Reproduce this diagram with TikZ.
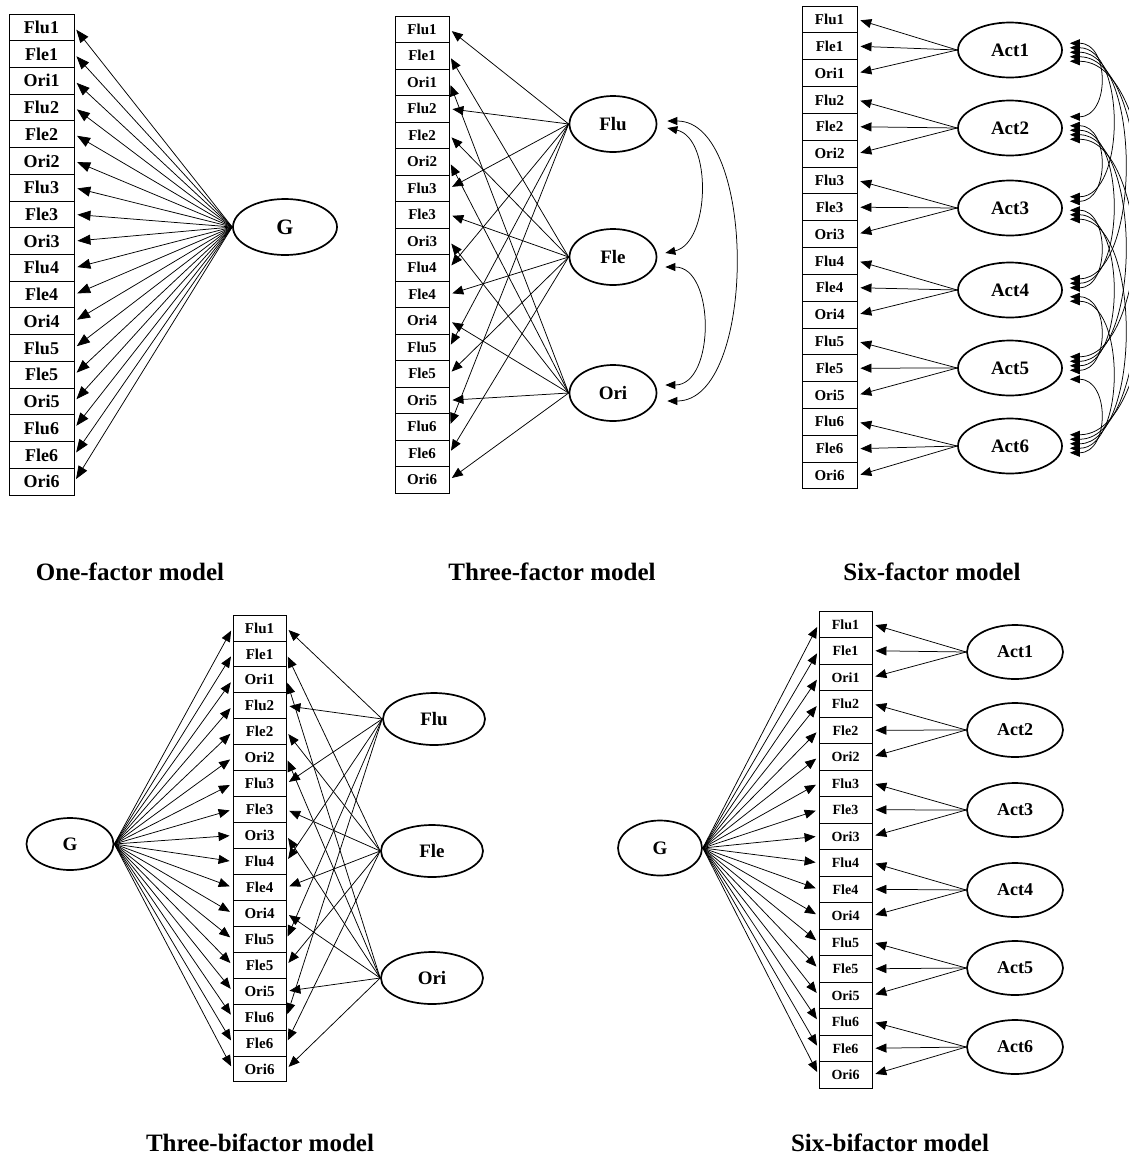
\documentclass[tikz,border=0pt]{standalone}
\usepackage{fontspec}
\setmainfont{Liberation Serif}
\usetikzlibrary{arrows.meta,shapes.geometric,calc}

% one column of the 18 observed scores: prefix, centre x, top y, width, row height, font size
\newcommand{\scorecol}[6]{%
  \foreach \i in {1,...,6}{%
    \foreach \kind [count=\k from 0] in {Flu,Fle,Ori}{%
      \pgfmathsetmacro{\row}{3*(\i-1)+\k}%
      \node[score, minimum width=#4pt, minimum height=#5pt,
            font=\bfseries\fontsize{#6}{#6}\selectfont]
        (#1\kind\i) at (#2, {#3+(\row+0.5)*#5}) {\kind\i};
    }%
  }%
}

\begin{document}
\begin{tikzpicture}[
    x=1pt, y=-1pt,
    score/.style={draw, rectangle, inner sep=0pt, line width=0.9pt},
    factor/.style={draw, ellipse, inner sep=0pt, line width=1.7pt},
    load/.style={-{Triangle[length=11pt,width=9pt]}, line width=0.75pt, shorten >=3pt},
    cov/.style={{Triangle[length=10pt,width=8pt]}-{Triangle[length=10pt,width=8pt]}, line width=0.75pt},
    caption/.style={font=\bfseries\fontsize{25}{25}\selectfont}
]
\fill[white] (0,0) rectangle (1128,1168);
\useasboundingbox (0,0) rectangle (1128,1168);

% one-factor model
\scorecol{a}{41.5}{14}{65}{26.72}{18}
\node[factor, minimum width=104pt, minimum height=56pt, font=\bfseries\fontsize{22}{22}\selectfont] (aG) at (285,227) {G};
\foreach \kind in {Flu,Fle,Ori}
  \foreach \i in {1,...,6}
    \draw[load, -{Triangle[length=13pt,width=10pt]}] (aG.west) -- (a\kind\i.east);
\node[caption] (acap) at (130,572) {One-factor model};

% three-factor model
\scorecol{b}{422}{16}{54}{26.5}{15}
\foreach \kind/\y in {Flu/124, Fle/257, Ori/393}
  \node[factor, minimum width=87pt, minimum height=56pt, font=\bfseries\fontsize{19}{19}\selectfont] (b\kind) at (613,\y) {\kind};
\foreach \kind in {Flu,Fle,Ori}
  \foreach \i in {1,...,6}
    \draw[load] (b\kind.west) -- (b\kind\i.east);
\draw[cov] ($(bFlu.east)+(10,4)$) .. controls +(45,10) and +(45,-10) .. ($(bFle.east)+(8,-4)$);
\draw[cov] ($(bFle.east)+(8,10)$) .. controls +(50,0) and +(50,0) .. ($(bOri.east)+(8,-8)$);
\draw[cov] ($(bFlu.east)+(10,-3)$) .. controls +(90,0) and +(90,0) .. ($(bOri.east)+(10,8)$);
\node[caption] (bcap) at (552,572) {Three-factor model};

% six-factor model
\scorecol{c}{829.5}{6}{55}{26.83}{15}
\foreach \i/\y in {1/50, 2/128, 3/208, 4/290, 5/368, 6/446}
  \node[factor, minimum width=104pt, minimum height=55pt, font=\bfseries\fontsize{19}{19}\selectfont] (cAct\i) at (1010,\y) {Act\i};
\foreach \i in {1,...,6}
  \foreach \kind in {Flu,Fle,Ori}
    \draw[load] (cAct\i.west) -- (c\kind\i.east);
\foreach \i in {1,...,5}{
  \pgfmathtruncatemacro{\n}{\i+1}
  \foreach \j in {\n,...,6}{
    \pgfmathsetmacro{\bulge}{(18+12*(\j-\i))/0.75}
    \draw[cov] ($(cAct\i.east)+(7,{4.5*(\j-3.5)})$) .. controls +(\bulge,0) and +(\bulge,0) .. ($(cAct\j.east)+(7,{4.5*(\i-3.5)})$);
  }
}
\node[caption] (ccap) at (932,572) {Six-factor model};

% three-bifactor model
\scorecol{d}{259.5}{615}{53}{25.94}{15}
\node[factor, minimum width=87pt, minimum height=52pt, font=\bfseries\fontsize{19}{19}\selectfont] (dG) at (70,844) {G};
\foreach \kind/\x/\y in {Flu/434/719, Fle/432/851, Ori/432/978}
  \node[factor, minimum width=102pt, minimum height=52pt, font=\bfseries\fontsize{19}{19}\selectfont] (d\kind) at (\x,\y) {\kind};
\foreach \kind in {Flu,Fle,Ori}
  \foreach \i in {1,...,6}{
    \draw[load] (dG.east) -- (d\kind\i.west);
    \draw[load] (d\kind.west) -- (d\kind\i.east);
  }
\node[caption] (dcap) at (260,1143) {Three-bifactor model};

% six-bifactor model
\scorecol{e}{845.5}{611}{53}{26.5}{14}
\node[factor, minimum width=84pt, minimum height=55pt, font=\bfseries\fontsize{19}{19}\selectfont] (eG) at (660,848) {G};
\foreach \i/\y in {1/652, 2/730, 3/810, 4/890, 5/968, 6/1047}
  \node[factor, minimum width=96pt, minimum height=54pt, font=\bfseries\fontsize{18}{18}\selectfont] (eAct\i) at (1015,\y) {Act\i};
\foreach \i in {1,...,6}
  \foreach \kind in {Flu,Fle,Ori}{
    \draw[load] (eG.east) -- (e\kind\i.west);
    \draw[load] (eAct\i.west) -- (e\kind\i.east);
  }
\node[caption] (ecap) at (890,1143) {Six-bifactor model};
\end{tikzpicture}
\end{document}
